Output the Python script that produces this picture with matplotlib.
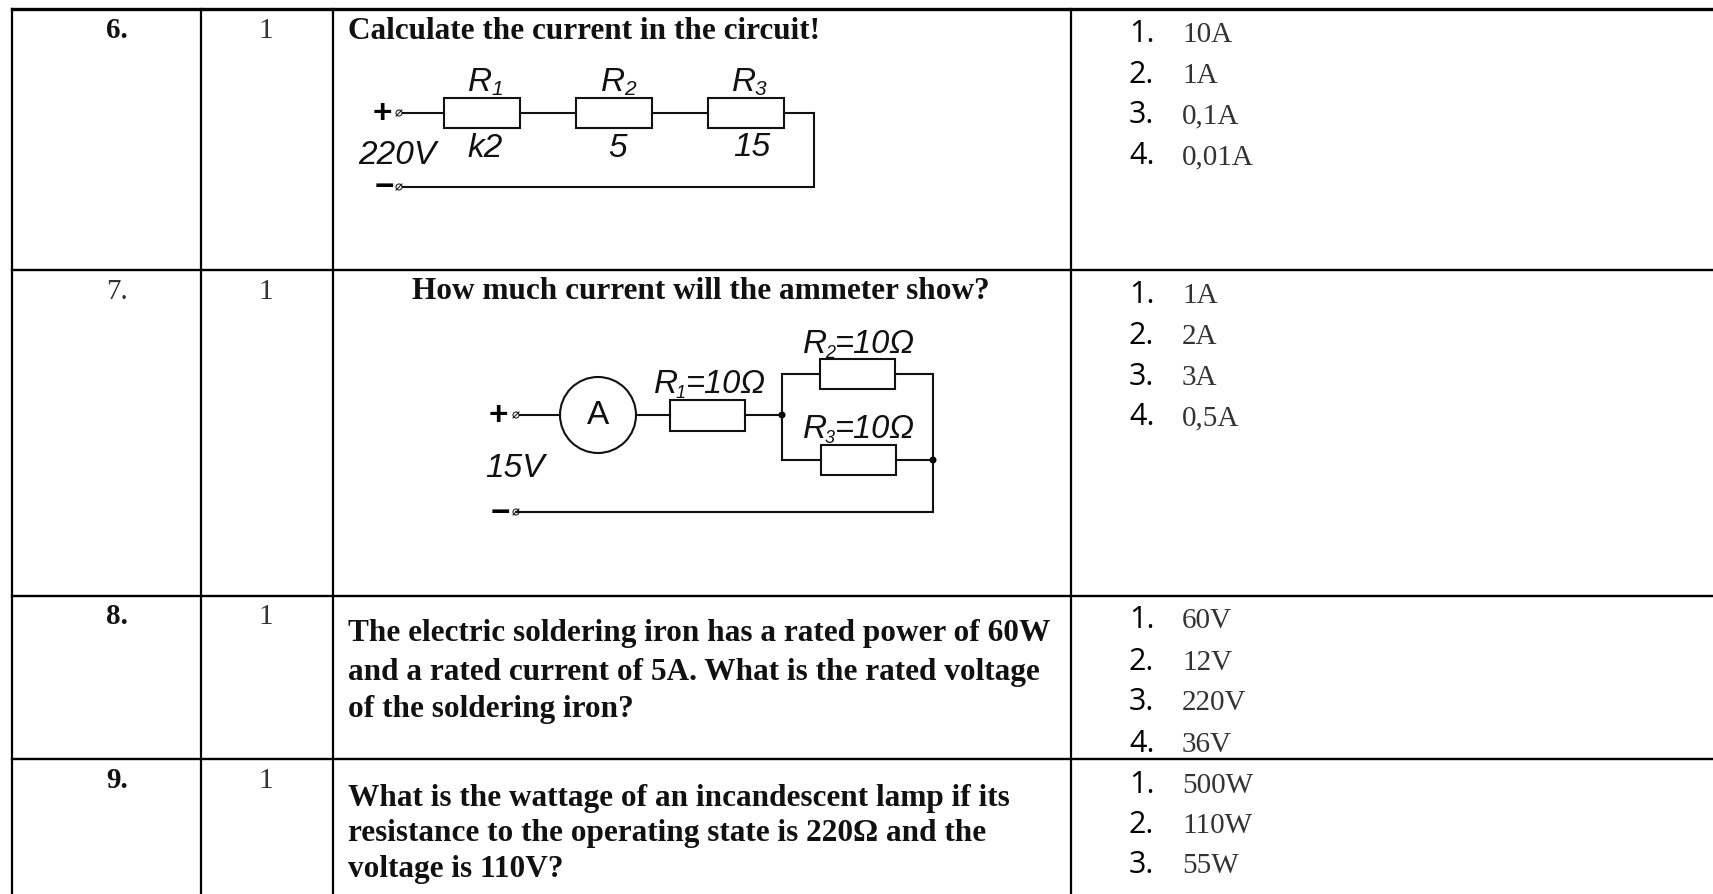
import matplotlib
matplotlib.use("Agg")
import matplotlib.pyplot as plt
from matplotlib.patches import Rectangle, Circle

W, H = 1713, 894
SERIF = "Liberation Serif"
SANS = "Liberation Sans"
NUM = "Open Sans"
INK = "#111111"
SOFT = "#333333"

# table structure
col_edges = [12, 201, 333, 1071]
row_edges = [9, 270, 596, 759]

# table text
row_numbers = ["6.", "7.", "8.", "9."]
row_bold = [True, False, True, True]
row_baselines = [38, 299, 624, 788]
points = ["1", "1", "1", "1"]
answers = [["10A", "1A", "0,1A", "0,01A"],
           ["1A", "2A", "3A", "0,5A"],
           ["60V", "12V", "220V", "36V"],
           ["500W", "110W", "55W"]]
answer_baselines = [[42, 83, 123, 164],
                    [303, 344, 385, 425],
                    [628, 670, 710, 752],
                    [793, 833, 873]]
questions = [("Calculate the current in the circuit!", 348, 39, "left"),
             ("How much current will the ammeter show?", 701, 299, "center"),
             ("The electric soldering iron has a rated power of 60W", 348, 641, "left"),
             ("and a rated current of 5A. What is the rated voltage", 348, 680, "left"),
             ("of the soldering iron?", 348, 717, "left"),
             ("What is the wattage of an incandescent lamp if its", 348, 806, "left"),
             ("resistance to the operating state is 220Ω and the", 348, 841, "left"),
             ("voltage is 110V?", 348, 877, "left")]

# circuit 1
c1_resistors = [(444, 98, 76, 30), (576, 98, 76, 30), (708, 98, 76, 30)]
c1_wires = [[(403, 113), (444, 113)], [(520, 113), (576, 113)], [(652, 113), (708, 113)],
            [(784, 113), (814, 113), (814, 187), (403, 187)]]
c1_terminals = [(399, 113), (399, 187)]
c1_signs = [("+", 382, 123), ("−", 384, 196)]
c1_names = [("R", "1", 468, 91), ("R", "2", 601, 91), ("R", "3", 732, 91)]
c1_labels = [("220V", 358, 164), ("k2", 467, 157), ("5", 608, 157), ("15", 733, 156)]

# circuit 2
c2_resistors = [(670, 400, 75, 31), (820, 359, 75, 30), (821, 445, 75, 30)]
c2_wires = [[(520, 415), (560, 415)], [(636, 415), (670, 415)], [(745, 415), (782, 415)],
            [(820, 374), (782, 374), (782, 460), (821, 460)],
            [(895, 374), (933, 374), (933, 512), (516, 512)],
            [(896, 460), (933, 460)]]
c2_terminals = [(516, 415), (516, 512)]
c2_dots = [(782, 415), (933, 460)]
c2_signs = [("+", 498, 425), ("−", 500, 522)]
c2_meter = (598, 415, 38)
c2_names = [("R", "1", "=10Ω", 654, 393), ("R", "2", "=10Ω", 803, 353), ("R", "3", "=10Ω", 803, 438)]
c2_labels = [("15V", 485, 477)]

fig = plt.figure(figsize=(W / 100, H / 100), dpi=100, facecolor="white")
ax = fig.add_axes([0, 0, 1, 1])
ax.set_xlim(0, W)
ax.set_ylim(H, 0)
ax.axis("off")


def line(pts, lw=1.4, color="#000000"):
    xs, ys = zip(*pts)
    ax.plot(xs, ys, color=color, lw=lw, solid_capstyle="projecting", solid_joinstyle="miter")


# grid
for i, y in enumerate(row_edges):
    line([(col_edges[0], y), (W, y)], lw=2.4 if i == 0 else 1.7)
for x in col_edges:
    line([(x, row_edges[0]), (x, H + 5)], lw=1.6)


def txt(s, x, y, size, family=SERIF, weight="normal", style="normal", color=INK, ha="left"):
    ax.text(x, y, s, fontsize=size, family=family, fontweight=weight, fontstyle=style,
            color=color, ha=ha, va="baseline")


# table text
cx0, cx1 = 117, 266
for i, (n, p, b) in enumerate(zip(row_numbers, points, row_baselines)):
    txt(n, cx0, b, 21, weight="bold" if row_bold[i] else "normal",
        color=INK if row_bold[i] else SOFT, ha="center")
    txt(p, cx1, b, 21, color=SOFT, ha="center")
for s, x, y, ha in questions:
    txt(s, x, y, 22.5, weight="bold", ha=ha)
for group, bases in zip(answers, answer_baselines):
    for j, (s, y) in enumerate(zip(group, bases)):
        txt(f"{j + 1}.", 1129, y, 22, family=NUM, weight="medium", color="#000000")
        txt(s, 1182, y, 21, color=SOFT)


def draw_circuit(resistors, wires, terminals, signs):
    for r in resistors:
        ax.add_patch(Rectangle(r[:2], r[2], r[3], fill=False, ec="#111111", lw=1.5))
    for w in wires:
        line(w, lw=1.5, color="#111111")
    for x, y in terminals:
        ax.add_patch(Circle((x, y), 3, fill=False, ec="#222222", lw=0.8))
        line([(x - 3, y + 3), (x + 3, y - 3)], lw=0.8, color="#222222")
    for s, x, y in signs:
        txt(s, x, y, 24, family=SANS, weight="bold", color="#000000", ha="center")


draw_circuit(c1_resistors, c1_wires, c1_terminals, c1_signs)
draw_circuit(c2_resistors, c2_wires, c2_terminals, c2_signs)
ax.add_patch(Circle(c2_meter[:2], c2_meter[2], fill=False, ec="#111111", lw=1.5))
txt("A", c2_meter[0], 424, 24, family=SANS, ha="center")
for x, y in c2_dots:
    ax.add_patch(Circle((x, y), 3.5, color="#000000", lw=0))

for s, x, y in c1_labels + c2_labels:
    txt(s, x, y, 24, family=SANS, style="italic")
for s, sub, x, y in c1_names:
    txt(s, x, y, 24, family=SANS, style="italic")
    txt(sub, x + 23, y + 4, 15, family=SANS, style="italic")
for s, sub, rest, x, y in c2_names:
    txt(s, x, y, 24, family=SANS, style="italic")
    txt(sub, x + 22, y + 5, 13, family=SANS, style="italic")
    txt(rest, x + 32, y, 23.5, family=SANS, style="italic")

fig.savefig("out.png", dpi=100, facecolor="white")
